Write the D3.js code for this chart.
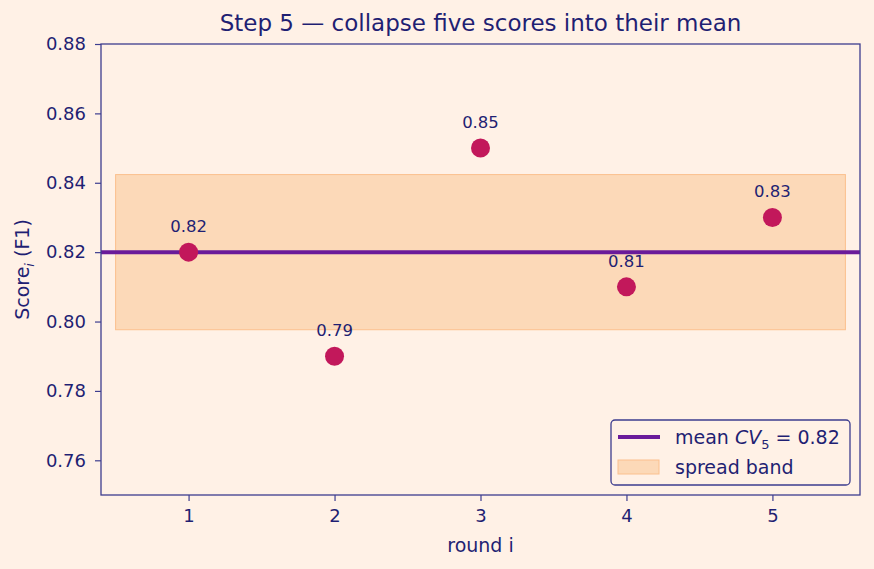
<!DOCTYPE html>
<html>
<head>
<meta charset="utf-8">
<script src="https://cdn.jsdelivr.net/npm/d3@7"></script>
<style>
  body { margin: 0; background: #fff1e6; }
  text { font-family: "DejaVu Sans", sans-serif; fill: #1f1f73; }
</style>
</head>
<body>
<script>
const rounds = [1, 2, 3, 4, 5];
const scores = [0.82, 0.79, 0.85, 0.81, 0.83];
const yTicks = [0.76, 0.78, 0.80, 0.82, 0.84, 0.86, 0.88];

const width = 874;
const height = 569;
const margin = {top: 44, right: 14, bottom: 74, left: 101};
const ink = "#1f1f73";
const axisColor = "#3d3d8f";

const mean = d3.mean(scores);
const sd = d3.deviation(scores);

const svg = d3.select("body").append("svg")
    .attr("width", width)
    .attr("height", height)
    .style("display", "block");

svg.append("rect").attr("width", width).attr("height", height).attr("fill", "#fff1e6");

const x = d3.scaleLinear().domain([0.4, 5.6]).range([margin.left, width - margin.right]);
const y = d3.scaleLinear().domain([0.75, 0.88]).range([height - margin.bottom, margin.top]);

// spread band
svg.append("rect")
    .attr("x", x(0.5))
    .attr("y", y(mean + sd))
    .attr("width", x(5.5) - x(0.5))
    .attr("height", y(mean - sd) - y(mean + sd))
    .attr("fill", "#fcd9b8")
    .attr("stroke", "#fbc08e")
    .attr("stroke-width", 1);

// mean line
svg.append("line")
    .attr("x1", x(0.4)).attr("x2", x(5.6))
    .attr("y1", y(mean)).attr("y2", y(mean))
    .attr("stroke", "#6a1b9a")
    .attr("stroke-width", 4);

// points
svg.selectAll(".pt")
    .data(rounds)
    .enter().append("circle")
    .attr("class", "pt")
    .attr("cx", d => x(d))
    .attr("cy", (d, i) => y(scores[i]))
    .attr("r", 9.5)
    .attr("fill", "#c2185b");

svg.selectAll(".lbl")
    .data(rounds)
    .enter().append("text")
    .attr("class", "lbl")
    .attr("x", d => x(d))
    .attr("y", (d, i) => y(scores[i]) - 20)
    .attr("text-anchor", "middle")
    .attr("font-size", 16.5)
    .text((d, i) => scores[i].toFixed(2));

// axes
const xAxis = svg.append("g")
    .attr("transform", "translate(0," + (height - margin.bottom) + ")")
    .call(d3.axisBottom(x).tickValues(rounds).tickFormat(d3.format("d")).tickSize(6).tickPadding(8));
const yAxis = svg.append("g")
    .attr("transform", "translate(" + margin.left + ",0)")
    .call(d3.axisLeft(y).tickValues(yTicks).tickFormat(d3.format(".2f")).tickSize(6).tickPadding(9));

[xAxis, yAxis].forEach(g => {
    g.select(".domain").remove();
    g.selectAll("line").attr("stroke", axisColor).attr("stroke-width", 1.2);
    g.selectAll("text").attr("font-size", 18).style("fill", ink);
});

// frame
svg.append("rect")
    .attr("x", margin.left).attr("y", margin.top)
    .attr("width", width - margin.left - margin.right)
    .attr("height", height - margin.top - margin.bottom)
    .attr("fill", "none")
    .attr("stroke", axisColor)
    .attr("stroke-width", 1.3);

// title & labels
svg.append("text")
    .attr("x", (margin.left + width - margin.right) / 2)
    .attr("y", 31)
    .attr("text-anchor", "middle")
    .attr("font-size", 23)
    .text("Step 5 \u2014 collapse five scores into their mean");

svg.append("text")
    .attr("x", (margin.left + width - margin.right) / 2)
    .attr("y", 552)
    .attr("text-anchor", "middle")
    .attr("font-size", 19)
    .text("round i");

const yl = svg.append("text")
    .attr("transform", "translate(29," + ((margin.top + height - margin.bottom) / 2) + ") rotate(-90)")
    .attr("text-anchor", "middle")
    .attr("font-size", 19);
yl.append("tspan").text("Score");
yl.append("tspan").attr("font-size", 13).attr("font-style", "italic").attr("dy", 5).text("i");
yl.append("tspan").attr("dy", -5).text(" (F1)");

// legend
const lg = svg.append("g").attr("transform", "translate(611,420)");
lg.append("rect")
    .attr("width", 239).attr("height", 65).attr("rx", 4)
    .attr("fill", "#fff1e6").attr("stroke", axisColor).attr("stroke-width", 1.3);
lg.append("line")
    .attr("x1", 7).attr("x2", 49).attr("y1", 17).attr("y2", 17)
    .attr("stroke", "#6a1b9a").attr("stroke-width", 4);
const lt = lg.append("text").attr("x", 64).attr("y", 24).attr("font-size", 19);
lt.append("tspan").text("mean ");
lt.append("tspan").attr("font-style", "italic").text("CV");
lt.append("tspan").attr("font-size", 13).attr("dy", 5).text("5");
lt.append("tspan").attr("dy", -5).text(" = " + mean.toFixed(2));
lg.append("rect")
    .attr("x", 7).attr("y", 40).attr("width", 41).attr("height", 14)
    .attr("fill", "#fcd9b8").attr("stroke", "#fbc08e");
lg.append("text").attr("x", 64).attr("y", 54).attr("font-size", 19).text("spread band");
</script>
</body>
</html>
